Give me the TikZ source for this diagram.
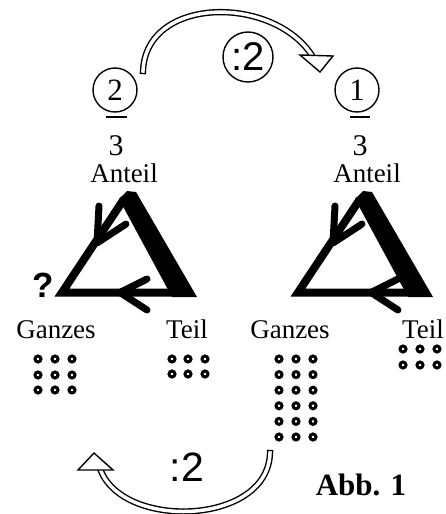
\documentclass[tikz,border=0pt]{standalone}
\usepackage{fontspec}
\setmainfont{Liberation Serif}
\setsansfont{Liberation Sans}
\begin{document}
\begin{tikzpicture}[x=1pt,y=-1pt,
  lbl/.style={font=\fontsize{27}{27}\selectfont, inner sep=0pt, anchor=base},
  num/.style={font=\fontsize{30}{30}\selectfont, inner sep=0pt, anchor=base},
  circnum/.style={circle, draw, line width=1.4pt, minimum size=44pt, inner sep=0pt, font=\fontsize{31}{31}\selectfont},
  opcirc/.style={circle, draw, line width=1.4pt, minimum size=50pt, inner sep=0pt, font=\sffamily\fontsize{40}{40}\selectfont},
  optext/.style={inner sep=0pt, font=\sffamily\fontsize{41}{41}\selectfont},
  dot/.style={circle, draw, line width=3pt, minimum size=6pt, inner sep=0pt},
  thinside/.style={line width=8pt, line join=miter, line cap=butt},
  chev/.style={line width=7pt, line cap=round, line join=round},
  dbl/.style={double, line width=1.4pt, double distance=3.5pt, line cap=rect},
  head/.style={draw, fill=white, line width=1.4pt, line join=miter},
  fracbar/.style={line width=1.6pt}
]
\useasboundingbox (0,0) rectangle (446,514);

% top fractions
\node[circnum] (c2) at (115,90) {2};
\node[circnum] (c1) at (357,90) {1};
\draw[fracbar] (106,117) -- (127,117);
\draw[fracbar] (350,117) -- (370,117);
\node[num] (d2) at (116,155) {3};
\node[num] (d1) at (360,155) {3};
\node[lbl] (antL) at (124,182) {Anteil};
\node[lbl] (antR) at (367,182) {Anteil};

% top arrow
\node[opcirc] (opTop) at (248,57) {:2};
\coordinate (tStart) at (143,71);
\coordinate (tEnd) at (313,57);
\draw[dbl] (tStart) .. controls (146,-5) and (275,-5) .. (tEnd);
\coordinate (tH1) at (300,55);
\coordinate (tH2) at (333,56);
\coordinate (tH3) at (320,72);
\filldraw[head] (tH1) -- (tH2) -- (tH3) -- cycle;

% triangles
\foreach \s/\dx/\bx in {L/0/0,R/236/15}{
  \begin{scope}[xshift=\dx pt]
    \coordinate (G\s) at (62,292.5);
    \coordinate (A\s) at (124,199);
    \coordinate (T\s) at (190,292.5);
    \draw[thinside] (T\s) -- (G\s) -- (A\s);
    \fill (119,199) -- (127,191) -- (136,192) -- (197,297) -- (172,297) -- cycle;
    % arrow on left side
    \coordinate (la\s) at (99,206);
    \coordinate (lt\s) at (97,243);
    \coordinate (lb\s) at (126,224);
    \draw[chev] (la\s) -- (lt\s) -- (lb\s);
    % arrow on bottom side
    \coordinate (ba\s) at (147+\bx,279);
    \coordinate (bt\s) at (120+\bx,292.5);
    \coordinate (bb\s) at (147+\bx,310);
    \draw[chev] (ba\s) -- (bt\s) -- (bb\s);
  \end{scope}
}
\node[inner sep=0pt, font=\sffamily\bfseries\fontsize{35}{35}\selectfont] (q) at (43,285) {?};

% labels
\node[lbl] (ganzL) at (56,338) {Ganzes};
\node[lbl] (teilL) at (187,338) {Teil};
\node[lbl] (ganzR) at (290,338) {Ganzes};
\node[lbl] (teilR) at (423,338) {Teil};

% dots
\foreach \x [count=\i] in {38,55,72}
  \foreach \y [count=\j] in {359,375,390}
    \node[dot] (dGL-\i-\j) at (\x,\y) {};
\foreach \x [count=\i] in {172,188,205}
  \foreach \y [count=\j] in {359,374}
    \node[dot] (dTL-\i-\j) at (\x,\y) {};
\foreach \x [count=\i] in {279,296,313}
  \foreach \y [count=\j] in {359,374.6,390.2,405.8,421.4,437}
    \node[dot] (dGR-\i-\j) at (\x,\y) {};
\foreach \x [count=\i] in {403,420,437}
  \foreach \y [count=\j] in {349,365}
    \node[dot] (dTR-\i-\j) at (\x,\y) {};

% bottom arrow
\node[optext] (opBot) at (187,467) {:2};
\coordinate (bStart) at (270,453);
\coordinate (bEnd) at (101,471);
\draw[dbl] (bStart) .. controls (268,525) and (125,530) .. (bEnd);
\coordinate (bH1) at (78,470);
\coordinate (bH2) at (94,453);
\coordinate (bH3) at (113,470);
\filldraw[head] (bH1) -- (bH2) -- (bH3) -- cycle;

\node[inner sep=0pt, anchor=base, font=\bfseries\fontsize{31}{31}\selectfont] (abb) at (361,495) {Abb. 1};
\end{tikzpicture}
\end{document}
